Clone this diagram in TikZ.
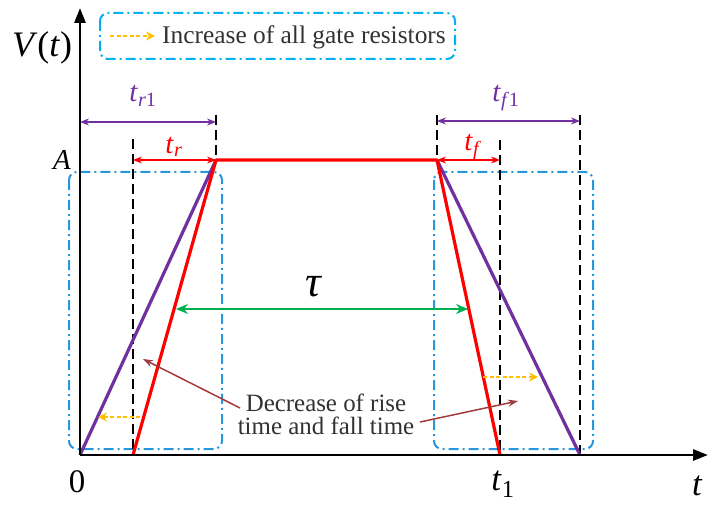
\documentclass[tikz,border=0pt]{standalone}
\usepackage{fontspec}
\setmainfont{Liberation Serif}
\usetikzlibrary{arrows.meta}
\definecolor{pulsered}{RGB}{255,0,0}
\definecolor{pulsepurple}{RGB}{112,48,160}
\definecolor{taugreen}{RGB}{0,176,80}
\definecolor{boxblue}{RGB}{40,150,220}
\definecolor{legendcyan}{RGB}{0,176,240}
\definecolor{hintorange}{RGB}{255,192,0}
\definecolor{notebrown}{RGB}{160,60,60}
\definecolor{textgray}{RGB}{50,50,50}

\begin{document}
\begin{tikzpicture}[x=1bp, y=-1bp,
  every node/.style={inner sep=0pt},
  axisline/.style={line width=2.8bp, -{Triangle[length=15bp,width=11bp]}},
  guide/.style={black, line width=2.5bp, dash pattern=on 10bp off 5bp},
  dimarrow/.style={line width=1.3bp, {Stealth[length=9bp,width=7bp]}-{Stealth[length=9bp,width=7bp]}},
  ramp/.style={line width=3.2bp, line join=round},
  zonebox/.style={line width=2bp, rounded corners=8bp, dash pattern=on 10bp off 4bp on 2bp off 4bp},
  shiftarrow/.style={hintorange, line width=2.3bp, dash pattern=on 4bp off 2.5bp, -{Stealth[length=9bp,width=9bp]}},
  notearrow/.style={notebrown, line width=1.5bp, -{Stealth[length=10bp,width=7bp]}},
  lbl/.style={font=\fontsize{29}{31}\selectfont}]

\useasboundingbox (0,0) rectangle (709,505);

% key points of the pulse
\coordinate (o) at (80,455);
\coordinate (yend) at (80,8);
\coordinate (xend) at (708,455);
\coordinate (rs) at (133,455);
\coordinate (p1) at (216,160);
\coordinate (p2) at (437,160);
\coordinate (rf) at (500,455);
\coordinate (pf) at (580,455);

% dash-dot zones and legend
\draw[zonebox, boxblue] (69,172) rectangle (222,449);
\draw[zonebox, boxblue] (434,172) rectangle (593,449);
\draw[zonebox, legendcyan] (100,13) rectangle (455,59);
\coordinate (la) at (110,36);
\coordinate (lb) at (155,36);
\draw[shiftarrow] (la) -- (lb);
\node[anchor=west, textgray, font=\fontsize{25.5}{27}\selectfont] (leg) at (162,37) {Increase of all gate resistors};

% guide lines
\coordinate (g1) at (133,139);
\coordinate (g2) at (216,115);
\coordinate (g3) at (437,115);
\coordinate (g4) at (500,140);
\coordinate (g5) at (580,115);
\draw[guide] (g1) -- (rs);
\draw[guide] (g2) -- (p1);
\draw[guide] (g3) -- (p2);
\draw[guide] (g4) -- (rf);
\draw[guide] (g5) -- (pf);

% rise and fall times
\coordinate (r1a) at (80,122);
\coordinate (r1b) at (216,122);
\coordinate (ra) at (133,160);
\coordinate (f1b) at (580,121);
\coordinate (f1a) at (437,121);
\coordinate (fb) at (500,160);
\draw[dimarrow, pulsepurple] (r1a) -- (r1b);
\draw[dimarrow, pulsered] (ra) -- (p1);
\draw[dimarrow, pulsepurple] (f1a) -- (f1b);
\draw[dimarrow, pulsered] (p2) -- (fb);
\node[lbl, pulsepurple] (tr1) at (143,96) {\textit{t}\textsubscript{\textit{r}1}};
\node[lbl, pulsered] (tr) at (174,147) {\textit{t}\textsubscript{\textit{r}}};
\node[lbl, pulsered] (tf) at (473,147) {\textit{t}\textsubscript{\textit{f}}};
\node[lbl, pulsepurple] (tf1) at (506,98) {\textit{t}\textsubscript{\textit{f}1}};

% pulses
\draw[ramp, pulsepurple] (o) -- (p1);
\draw[ramp, pulsepurple] (p2) -- (pf);
\draw[ramp, pulsered] (rs) -- (p1) -- (p2) -- (rf);

% pulse width
\coordinate (ta) at (176,309);
\coordinate (tb) at (468,309);
\draw[taugreen, line width=2bp, {Stealth[length=12bp,width=10bp]}-{Stealth[length=12bp,width=10bp]}] (ta) -- (tb);
\node[font=\fontsize{44}{46}\selectfont\itshape] (tau) at (313,287) {τ};

% shifts and note
\coordinate (sa) at (140,417);
\coordinate (sb) at (98,417);
\coordinate (sc) at (483,377);
\coordinate (sd) at (538,377);
\draw[shiftarrow] (sa) -- (sb);
\draw[shiftarrow] (sc) -- (sd);
\node[align=center, textgray, font=\fontsize{25}{23}\selectfont] (note) at (326,414) {Decrease of rise\\time and fall time};
\coordinate (na) at (240,408);
\coordinate (nb) at (143,359);
\coordinate (nc) at (420,422);
\coordinate (nd) at (518,401);
\draw[notearrow] (na) -- (nb);
\draw[notearrow] (nc) -- (nd);

% axes
\draw[axisline] (o) -- (yend);
\draw[axisline] (o) -- (xend);
\node[font=\fontsize{36}{38}\selectfont] (vt) at (42,48) {\textit{V}(\textit{t})};
\node[lbl] (a) at (62,160) {\textit{A}};
\node[font=\fontsize{33}{35}\selectfont] (zero) at (77,482) {0};
\node[font=\fontsize{35}{37}\selectfont] (t1) at (503,484) {\textit{t}\textsubscript{1}};
\node[font=\fontsize{35}{37}\selectfont\itshape] (t) at (697,486) {t};

\end{tikzpicture}
\end{document}
